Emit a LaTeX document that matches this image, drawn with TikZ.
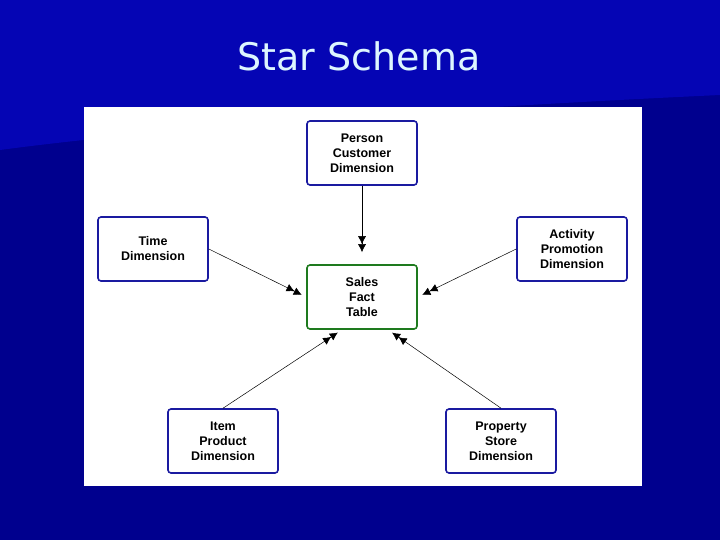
\documentclass[tikz,border=0pt]{standalone}
\usepackage{fontspec}
\setmainfont{DejaVu Sans}
\newfontfamily\boxfont{Liberation Sans}
\usetikzlibrary{arrows.meta}
\definecolor{bgdark}{HTML}{00008E}
\definecolor{bglight}{HTML}{0505B4}
\definecolor{boxblue}{HTML}{1A1AA0}
\definecolor{boxgreen}{HTML}{1E7A1E}
\definecolor{titlec}{HTML}{DDF6FF}
\begin{document}
\begin{tikzpicture}[x=1pt,y=-1pt,
  dim/.style={draw=boxblue,line width=1.6pt,rounded corners=3pt,fill=white,minimum width=110pt,minimum height=64pt,align=center,font=\boxfont\bfseries\fontsize{12.5}{15}\selectfont},
  fact/.style={dim,draw=boxgreen},
  arr/.style={-{Latex[length=8pt,width=8pt]Latex[length=8pt,width=8pt]},shorten >=5pt,line width=0.5pt}]
\useasboundingbox (0,0) rectangle (720,540);
\fill[bgdark] (0,0) rectangle (720,540);
\fill[bglight] (0,0) -- (720,0) -- (720,95) .. controls (400,110) and (150,130) .. (0,150) -- cycle;
\node[font=\fontsize{38}{44}\selectfont,text=titlec] (title) at (359,56) {Star Schema};
\fill[white] (84,107) rectangle (642,486);
\node[dim] (person) at (362,153) {Person\\Customer\\Dimension};
\node[dim] (time) at (153,249) {Time\\Dimension};
\node[dim] (activity) at (572,249) {Activity\\Promotion\\Dimension};
\node[fact] (sales) at (362,297) {Sales\\Fact\\Table};
\node[dim] (item) at (223,441) {Item\\Product\\Dimension};
\node[dim] (property) at (501,441) {Property\\Store\\Dimension};
\draw[arr,shorten >=12pt] (person) -- (sales);
\draw[arr] (time.east) -- (sales.west);
\draw[arr] (activity.west) -- (sales.east);
\draw[arr] (item.north) -- ([xshift=-20pt]sales.south);
\draw[arr] (property.north) -- ([xshift=26pt]sales.south);
\end{tikzpicture}
\end{document}
